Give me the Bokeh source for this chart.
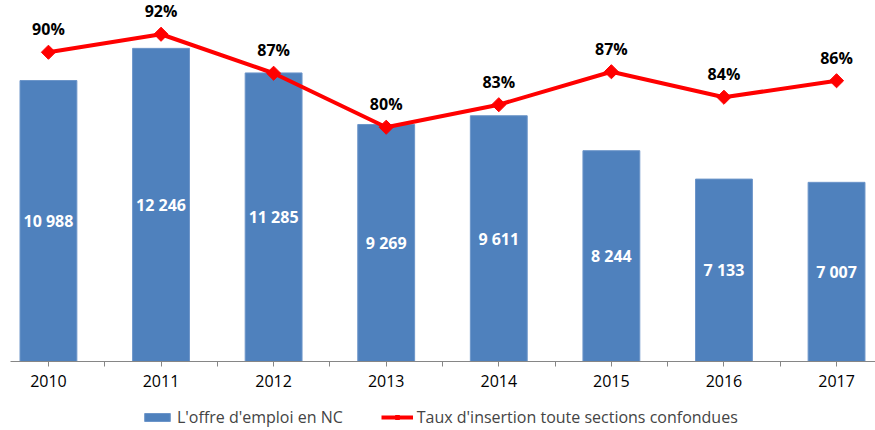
import numpy as np
from bokeh.plotting import figure
from bokeh.layouts import column
from bokeh.models import Range1d, FixedTicker, ColumnDataSource, Legend, LegendItem
from bokeh.core.properties import value
from bokeh.embed import file_html
from bokeh.resources import INLINE

years = ["2010", "2011", "2012", "2013", "2014", "2015", "2016", "2017"]
offres = [10988, 12246, 11285, 9269, 9611, 8244, 7133, 7007]
taux = [90.0, 92.4, 87.2, 80.0, 83.0, 87.4, 84.0, 86.2]
series_names = ["L'offre d'emploi en NC", "Taux d'insertion toute sections confondues"]

idx = list(range(len(years)))
src = ColumnDataSource(dict(
    x=idx,
    offres=offres,
    half=[v / 2 for v in offres],
    olab=[f"{v:,}".replace(",", " ") for v in offres],
    taux=taux,
    tlab=[f"{round(v)}%" for v in taux],
))

FONT = "Open Sans"
BAR = dict(fill_color="#4F81BD", line_color="#6C95C9", line_width=1)
LINE = dict(line_color="#FF0000", line_width=4)
MARK = dict(marker="square", size=10, angle=np.pi / 4,
            fill_color="#FF0000", line_color="#FF0000")

p = figure(width=875, height=400, frame_width=865, frame_height=361,
           output_backend="svg", toolbar_location=None,
           x_range=Range1d(-0.337, 7.346), y_range=Range1d(0, 14118),
           y_axis_location=None, min_border_left=10, min_border_right=0,
           min_border_top=0, min_border_bottom=39)
p.extra_y_ranges = {"pct": Range1d(48.76, 96.9)}
p.outline_line_color = None
p.xgrid.grid_line_color = None
p.ygrid.grid_line_color = None

p.vbar(x="x", top="offres", width=0.505, source=src, **BAR)
p.text(x="x", y="half", text="olab", source=src, text_color="white",
       text_font=value(FONT), text_font_style="bold", text_font_size="16px",
       text_align="center", text_baseline="middle")

p.line(x="x", y="taux", source=src, y_range_name="pct", **LINE)
p.scatter(x="x", y="taux", source=src, y_range_name="pct", **MARK)
p.text(x="x", y="taux", text="tlab", source=src, y_range_name="pct",
       y_offset=-23, text_color="black", text_font=value(FONT),
       text_font_style="bold", text_font_size="16px",
       text_align="center", text_baseline="middle")

ax = p.xaxis[0]
ax.ticker = FixedTicker(ticks=idx, minor_ticks=[i + 0.5 for i in idx])
ax.major_label_overrides = {i: y for i, y in zip(idx, years)}
ax.axis_line_color = "#868686"
ax.major_tick_line_color = "#868686"
ax.minor_tick_line_color = "#868686"
ax.major_tick_in = 0
ax.major_tick_out = 5
ax.minor_tick_in = 0
ax.minor_tick_out = 5
ax.major_label_standoff = 8
ax.major_label_text_font = FONT
ax.major_label_text_font_size = "16px"
ax.major_label_text_color = "black"

# legend strip below the chart (legend-only renderers sit outside the visible range)
leg = figure(width=875, height=30, output_backend="svg", toolbar_location=None,
             x_range=Range1d(0, 1), y_range=Range1d(0, 1),
             x_axis_location=None, y_axis_location=None,
             min_border=0)
leg.outline_line_color = None
leg.xgrid.grid_line_color = None
leg.ygrid.grid_line_color = None
hidden = ColumnDataSource(dict(x=[-10], y=[-10]))
r_bar = leg.vbar(x="x", top="y", width=0.5, source=hidden, **BAR)
r_line = leg.line(x="x", y="y", source=hidden, **LINE)
r_mark = leg.scatter(x="x", y="y", source=hidden, **MARK)

legend = Legend(items=[
    LegendItem(label=series_names[0], renderers=[r_bar]),
    LegendItem(label=series_names[1], renderers=[r_line, r_mark]),
], orientation="horizontal", location=(131, 2),
    label_text_font=FONT, label_text_font_size="16px",
    glyph_width=32, glyph_height=10, spacing=38, label_standoff=4,
    border_line_color=None, background_fill_alpha=0, padding=2, margin=0)
leg.add_layout(legend)

layout = column(p, leg, spacing=0)
open("out.html", "w").write(file_html(layout, INLINE))
